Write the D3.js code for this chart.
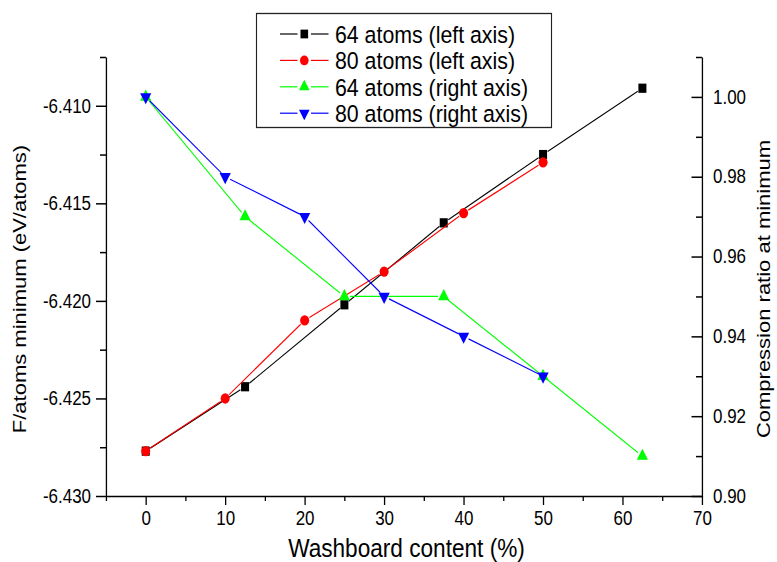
<!DOCTYPE html>
<html>
<head>
<meta charset="utf-8">
<script src="https://cdn.jsdelivr.net/npm/d3@7"></script>
<style>
body { margin: 0; background: #fff; }
svg { display: block; }
</style>
</head>
<body>
<svg id="chart"></svg>
<script>
// washboard content (%)
var x64 = [0, 12.5, 25, 37.5, 50, 62.5];
var x80 = [0, 10, 20, 30, 40, 50];

// F/atoms minimum (eV/atoms), left axis
var f64 = [-6.4277, -6.4244, -6.4202, -6.4160, -6.4125, -6.4091];
var f80 = [-6.4277, -6.4250, -6.4210, -6.4185, -6.4155, -6.4129];

// compression ratio at minimum, right axis
var c64 = [1.00, 0.97, 0.95, 0.95, 0.93, 0.91];
var c80 = [1.00, 0.98, 0.97, 0.95, 0.94, 0.93];

var seriesNames = ["64 atoms (left axis)", "80 atoms (left axis)", "64 atoms (right axis)", "80 atoms (right axis)"];

var xTicks = [0, 10, 20, 30, 40, 50, 60, 70];
var xMinor = [-5, 5, 15, 25, 35, 45, 55, 65];
var leftTicks = [-6.430, -6.425, -6.420, -6.415, -6.410];
var leftMinor = [-6.4275, -6.4225, -6.4175, -6.4125, -6.4075];
var rightTicks = [0.90, 0.92, 0.94, 0.96, 0.98, 1.00];
var rightMinor = [0.91, 0.93, 0.95, 0.97, 0.99, 1.01];

// the picture is squeezed sideways, so draw it wider and squash it with the viewBox
var k = 0.87;
var width = 777 / k;
var heigh = 562;
function sx(px) { return px / k; }

var font = "Arial, 'Liberation Sans', sans-serif";

var svg = d3.select('#chart')
    .attr('width', 777)
    .attr('height', heigh)
    .attr('viewBox', '0 0 ' + width + ' ' + heigh)
    .attr('preserveAspectRatio', 'none');

svg.append('rect').attr('width', width).attr('height', heigh).attr('fill', 'white');

var x = d3.scaleLinear().domain([-5, 70]).range([sx(106), sx(702)]);
var yL = d3.scaleLinear().domain([-6.430, -6.4075]).range([496, 57]);
var yR = d3.scaleLinear().domain([0.90, 1.01]).range([496, 57]);

function styleAxis(g, size) {
    g.selectAll('path, line').attr('stroke', '#000').attr('stroke-width', 1.5);
    g.selectAll('text').attr('font-family', font).attr('font-size', size).attr('fill', '#000');
}

// bottom axis
var gx = svg.append('g').attr('transform', 'translate(0,496)')
    .call(d3.axisBottom(x).tickValues(xTicks).tickSize(9).tickSizeOuter(0).tickPadding(6).tickFormat(d3.format('d')));
styleAxis(gx, 19.5);
var gxm = svg.append('g').attr('transform', 'translate(0,496)')
    .call(d3.axisBottom(x).tickValues(xMinor).tickSize(5).tickFormat(''));
gxm.select('.domain').remove();
styleAxis(gxm, 19.5);

// left axis
var gl = svg.append('g').attr('transform', 'translate(' + x(-5) + ',0)')
    .call(d3.axisLeft(yL).tickValues(leftTicks).tickSize(sx(10)).tickSizeOuter(0).tickPadding(sx(5))
        .tickFormat(function(d) { return d.toFixed(3); }));
styleAxis(gl, 19.5);
var glm = svg.append('g').attr('transform', 'translate(' + x(-5) + ',0)')
    .call(d3.axisLeft(yL).tickValues(leftMinor).tickSize(sx(6)).tickFormat(''));
glm.select('.domain').remove();
styleAxis(glm, 19.5);

// right axis, ticks point inwards
var gr = svg.append('g').attr('transform', 'translate(' + x(70) + ',0)')
    .call(d3.axisRight(yR).tickValues(rightTicks).tickSize(0).tickSizeOuter(0).tickPadding(sx(11)).tickFormat(d3.format('.2f')));
styleAxis(gr, 19.5);
var grt = svg.append('g').attr('transform', 'translate(' + x(70) + ',0)')
    .call(d3.axisLeft(yR).tickValues(rightTicks).tickSize(sx(10.5)).tickFormat(''));
grt.select('.domain').remove();
styleAxis(grt, 19.5);
var grm = svg.append('g').attr('transform', 'translate(' + x(70) + ',0)')
    .call(d3.axisLeft(yR).tickValues(rightMinor).tickSize(sx(6)).tickFormat(''));
grm.select('.domain').remove();
styleAxis(grm, 19.5);

// axis titles
svg.append('text')
    .attr('x', sx(406.5)).attr('y', 557)
    .attr('text-anchor', 'middle')
    .attr('font-family', font).attr('font-size', 26)
    .text('Washboard content (%)');

svg.append('text')
    .attr('transform', 'translate(' + sx(25.5) + ',289) rotate(-90)')
    .attr('text-anchor', 'middle')
    .attr('font-family', font).attr('font-size', 22)
    .text('F/atoms minimum (eV/atoms)');

svg.append('text')
    .attr('transform', 'translate(' + sx(770) + ',289) rotate(-90)')
    .attr('text-anchor', 'middle')
    .attr('font-family', font).attr('font-size', 22)
    .text('Compression ratio at minimum');

// series
var series = [
    { xs: x64, ys: f64, y: yL, color: '#000000', sym: d3.symbolSquare, size: 85, rot: 0 },
    { xs: x80, ys: f80, y: yL, color: '#ff0000', sym: d3.symbolCircle, size: 85, rot: 0 },
    { xs: x64, ys: c64, y: yR, color: '#00ff00', sym: d3.symbolTriangle, size: 72, rot: 0 },
    { xs: x80, ys: c80, y: yR, color: '#0000ff', sym: d3.symbolTriangle, size: 72, rot: 180 }
];

// Origin leaves a small gap between line and symbol
function gapSegs(pts, g) {
    var segs = [];
    for (var i = 0; i < pts.length - 1; i++) {
        var p0 = pts[i], p1 = pts[i + 1];
        var dx = (p1[0] - p0[0]) * k, dy = p1[1] - p0[1];
        var len = Math.sqrt(dx * dx + dy * dy);
        if (len <= 2 * g) continue;
        var t = g / len;
        segs.push([p0[0] + (p1[0] - p0[0]) * t, p0[1] + dy * t,
                   p1[0] - (p1[0] - p0[0]) * t, p1[1] - dy * t]);
    }
    return segs;
}

series.forEach(function(s) {
    var pts = s.xs.map(function(v, i) { return [x(v), s.y(s.ys[i])]; });
    var g = svg.append('g');
    g.selectAll('line')
        .data(gapSegs(pts, 5.5))
        .enter()
        .append('line')
        .attr('x1', function(d) { return d[0]; })
        .attr('y1', function(d) { return d[1]; })
        .attr('x2', function(d) { return d[2]; })
        .attr('y2', function(d) { return d[3]; })
        .attr('stroke', s.color)
        .attr('stroke-width', 1.2);
    g.selectAll('path')
        .data(pts)
        .enter()
        .append('path')
        .attr('d', d3.symbol().type(s.sym).size(s.size))
        .attr('transform', function(d) {
            return 'translate(' + d[0] + ',' + d[1] + ') rotate(' + s.rot + ')';
        })
        .attr('fill', s.color);
});

// legend
var legend = svg.append('g');
legend.append('rect')
    .attr('x', sx(256.5)).attr('y', 13.5)
    .attr('width', sx(295)).attr('height', 114)
    .attr('fill', 'white').attr('stroke', '#222').attr('stroke-width', 1.3);

series.forEach(function(s, i) {
    var yy = 34 + i * 26.4;
    legend.append('line')
        .attr('x1', sx(280)).attr('x2', sx(297.5)).attr('y1', yy).attr('y2', yy)
        .attr('stroke', s.color).attr('stroke-width', 1.2);
    legend.append('line')
        .attr('x1', sx(311)).attr('x2', sx(328.5)).attr('y1', yy).attr('y2', yy)
        .attr('stroke', s.color).attr('stroke-width', 1.2);
    legend.append('path')
        .attr('d', d3.symbol().type(s.sym).size(s.size * 0.9))
        .attr('transform', 'translate(' + sx(304.3) + ',' + yy + ') rotate(' + s.rot + ')')
        .attr('fill', s.color);
    legend.append('text')
        .attr('x', sx(335)).attr('y', yy)
        .attr('dy', '0.36em')
        .attr('font-family', font).attr('font-size', 24.5)
        .text(seriesNames[i]);
});
</script>
</body>
</html>
